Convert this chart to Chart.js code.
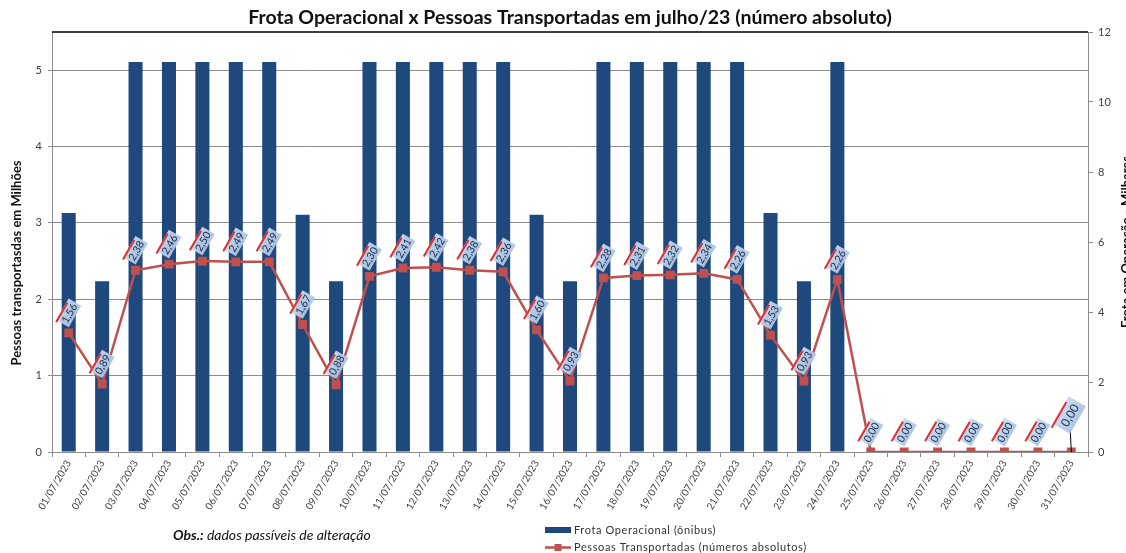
<!DOCTYPE html>
<html>
<head>
<meta charset="utf-8">
<script src="https://cdn.jsdelivr.net/npm/chart.js@4"></script>
<style>
html,body{margin:0;padding:0;background:#fff;}
#wrap{width:1126px;height:553px;position:relative;}
</style>
</head>
<body>
<div id="wrap"><canvas id="c" width="1126" height="553"></canvas></div>
<script>
const titleText = 'Frota Operacional x Pessoas Transportadas em julho/23 (número absoluto)';
const leftTitle = 'Pessoas transportasdas em Milhões';
const rightTitle = 'Frota em Operação - Milhares';
const obsBold = 'Obs.:';
const obsText = ' dados passíveis de alteração';
const frotaLabel = 'Frota Operacional (ônibus)';
const pessoasLabel = 'Pessoas Transportadas (números absolutos)';

const categories = ['01/07/2023','02/07/2023','03/07/2023','04/07/2023','05/07/2023','06/07/2023','07/07/2023','08/07/2023','09/07/2023','10/07/2023','11/07/2023','12/07/2023','13/07/2023','14/07/2023','15/07/2023','16/07/2023','17/07/2023','18/07/2023','19/07/2023','20/07/2023','21/07/2023','22/07/2023','23/07/2023','24/07/2023','25/07/2023','26/07/2023','27/07/2023','28/07/2023','29/07/2023','30/07/2023','31/07/2023'];
// Frota em operação (milhares) - right axis
const frota = [6.83,4.88,11.14,11.14,11.14,11.14,11.14,6.78,4.88,11.14,11.14,11.14,11.14,11.14,6.78,4.88,11.14,11.14,11.14,11.14,11.14,6.83,4.88,11.14,null,null,null,null,null,null,null];
// Pessoas transportadas (milhões) - left axis
const pessoas = [1.56,0.89,2.38,2.46,2.50,2.49,2.49,1.67,0.88,2.30,2.41,2.42,2.38,2.36,1.60,0.93,2.28,2.31,2.32,2.34,2.26,1.53,0.93,2.26,0,0,0,0,0,0,0];
const leftTicks = [0,1,2,3,4,5];
const rightTicks = [0,2,4,6,8,10,12];

const FONT = 'Lato, "Open Sans", sans-serif';
const BLUE = '#1f497d';
const RED = '#c0504d';

const deco = {
  id: 'deco',
  beforeDraw(chart) {
    const ctx = chart.ctx;
    ctx.save();
    ctx.fillStyle = '#fff';
    ctx.fillRect(0, 0, chart.width, chart.height);
    ctx.restore();
  },
  afterDatasetsDraw(chart) {
    const ctx = chart.ctx;
    const meta = chart.getDatasetMeta(1);
    const last = pessoas.length - 1;
    meta.data.forEach((pt, i) => {
      const v = pessoas[i];
      if (v === null || v === undefined) return;
      const txt = v.toFixed(2).replace('.', ',');
      const special = i === last;
      const fs = special ? 12 : 10.5;
      let cx = pt.x, cy = pt.y - 20;
      ctx.save();
      if (special) {
        cx = pt.x - 2; cy = pt.y - 37;
        ctx.strokeStyle = '#000';
        ctx.lineWidth = 1;
        ctx.beginPath();
        ctx.moveTo(pt.x, pt.y);
        ctx.lineTo(pt.x - 1, cy + 15);
        ctx.stroke();
      }
      ctx.translate(cx, cy);
      ctx.rotate(-Math.PI / 3);
      ctx.font = fs + 'px ' + FONT;
      const w = ctx.measureText(txt).width + (special ? 8 : 4);
      const h = fs + (special ? 8 : 4);
      const g = ctx.createLinearGradient(0, -h / 2, 0, h / 2);
      g.addColorStop(0, 'rgba(200,218,240,0.95)');
      g.addColorStop(1, 'rgba(170,196,228,0.95)');
      ctx.fillStyle = g;
      ctx.fillRect(-w / 2, -h / 2, w, h);
      ctx.strokeStyle = '#e02f2f';
      ctx.lineWidth = 2;
      ctx.beginPath();
      ctx.moveTo(-w / 2 - (special ? 4 : 2), -h / 2 + 1);
      ctx.lineTo(w / 2 - (special ? 6 : 4), -h / 2 + 1);
      ctx.stroke();
      ctx.fillStyle = '#1b2a45';
      ctx.textAlign = 'center';
      ctx.textBaseline = 'middle';
      ctx.fillText(txt, 0, 1);
      ctx.restore();
    });
  },
  afterDraw(chart) {
    const ctx = chart.ctx;
    const a = chart.chartArea;
    ctx.save();
    // top border
    ctx.strokeStyle = '#000';
    ctx.lineWidth = 1.5;
    ctx.beginPath();
    ctx.moveTo(a.left, a.top);
    ctx.lineTo(a.right, a.top);
    ctx.stroke();
    // title
    ctx.fillStyle = '#111';
    ctx.font = 'bold 19.5px ' + FONT;
    ctx.textAlign = 'center';
    ctx.textBaseline = 'middle';
    ctx.fillText(titleText, 570, 18);
    // left axis title
    ctx.save();
    ctx.translate(17, 263);
    ctx.rotate(-Math.PI / 2);
    ctx.font = 'bold 13px ' + FONT;
    ctx.fillText(leftTitle, 0, 0);
    ctx.restore();
    // right axis title (clipped at canvas edge)
    ctx.save();
    ctx.translate(1130.5, 242);
    ctx.rotate(-Math.PI / 2);
    ctx.font = 'bold 13px ' + FONT;
    ctx.textBaseline = 'alphabetic';
    ctx.fillText(rightTitle, 0, 0);
    ctx.restore();
    // obs
    ctx.textAlign = 'left';
    ctx.font = 'italic bold 14px ' + FONT;
    const bw = ctx.measureText(obsBold).width;
    ctx.fillStyle = '#111';
    ctx.fillText(obsBold, 173, 535);
    ctx.font = 'italic 14px ' + FONT;
    ctx.fillText(obsText, 173 + bw, 535);
    // legend
    ctx.fillStyle = BLUE;
    ctx.fillRect(545, 527, 26, 6);
    ctx.strokeStyle = RED;
    ctx.lineWidth = 2.5;
    ctx.beginPath();
    ctx.moveTo(545, 547.5);
    ctx.lineTo(571, 547.5);
    ctx.stroke();
    ctx.fillStyle = RED;
    ctx.fillRect(554.5, 544, 7, 7);
    ctx.fillStyle = '#333';
    ctx.font = '11px ' + FONT;
    try { ctx.letterSpacing = '0.6px'; } catch (e) {}
    ctx.fillText(frotaLabel, 574, 530);
    ctx.fillText(pessoasLabel, 574, 547);
    ctx.restore();
  }
};

Chart.defaults.font.family = FONT;
Chart.defaults.color = '#404040';

new Chart(document.getElementById('c'), {
  data: {
    labels: categories,
    datasets: [
      {
        type: 'bar',
        label: frotaLabel,
        data: frota,
        yAxisID: 'y1',
        backgroundColor: BLUE,
        borderWidth: 0,
        barPercentage: 0.42,
        categoryPercentage: 1,
        order: 2
      },
      {
        type: 'line',
        label: pessoasLabel,
        data: pessoas,
        yAxisID: 'y',
        borderColor: RED,
        backgroundColor: RED,
        borderWidth: 2.5,
        pointStyle: 'rect',
        pointRadius: 4.5,
        pointHoverRadius: 4.5,
        tension: 0,
        order: 1
      }
    ]
  },
  options: {
    responsive: false,
    animation: false,
    layout: { padding: { top: 32, left: 0, right: 0, bottom: 0 } },
    plugins: { legend: { display: false }, title: { display: false }, tooltip: { enabled: false } },
    scales: {
      x: {
        offset: true,
        grid: { offset: true, drawOnChartArea: false, drawTicks: true, tickLength: 5, color: '#8c8c8c' },
        border: { color: '#8c8c8c' },
        ticks: { autoSkip: false, maxRotation: 60, minRotation: 60, font: { size: 10 }, padding: 1, color: '#404040' },
        afterFit(s) { s.height = 101; }
      },
      y: {
        position: 'left',
        min: 0, max: 5.5,
        afterBuildTicks(s) { s.ticks = leftTicks.map(v => ({ value: v })); },
        ticks: { font: { size: 11 }, padding: 6, color: '#404040' },
        grid: { color: '#8c8c8c', tickLength: 4 },
        border: { color: '#8c8c8c' },
        afterFit(s) { s.width = 52; }
      },
      y1: {
        position: 'right',
        min: 0, max: 12,
        afterBuildTicks(s) { s.ticks = rightTicks.map(v => ({ value: v })); },
        ticks: { font: { size: 11 }, padding: 5, color: '#404040' },
        grid: { drawOnChartArea: false, tickLength: 5, color: '#8c8c8c' },
        border: { color: '#8c8c8c' },
        afterFit(s) { s.width = 38; }
      }
    }
  },
  plugins: [deco]
});
</script>
</body>
</html>
